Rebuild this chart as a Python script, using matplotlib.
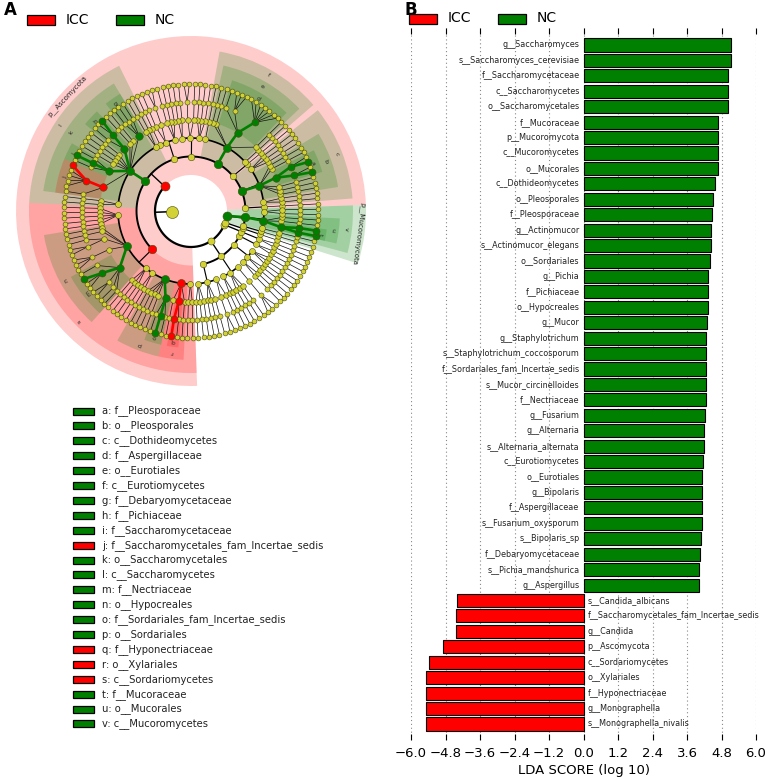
import numpy as np
import matplotlib
matplotlib.use('Agg')
import matplotlib.pyplot as plt
from matplotlib.patches import Rectangle

# ---------------- Panel B data : LDA scores ----------------
lda_names = ['g__Saccharomyces', 's__Saccharomyces_cerevisiae', 'f__Saccharomycetaceae',
             'c__Saccharomycetes', 'o__Saccharomycetales', 'f__Mucoraceae', 'p__Mucoromycota',
             'c__Mucoromycetes', 'o__Mucorales', 'c__Dothideomycetes', 'o__Pleosporales',
             'f__Pleosporaceae', 'g__Actinomucor', 's__Actinomucor_elegans', 'o__Sordariales',
             'g__Pichia', 'f__Pichiaceae', 'o__Hypocreales', 'g__Mucor', 'g__Staphylotrichum',
             's__Staphylotrichum_coccosporum', 'f__Sordariales_fam_Incertae_sedis',
             's__Mucor_circinelloides', 'f__Nectriaceae', 'g__Fusarium', 'g__Alternaria',
             's__Alternaria_alternata', 'c__Eurotiomycetes', 'o__Eurotiales', 'g__Bipolaris',
             'f__Aspergillaceae', 's__Fusarium_oxysporum', 's__Bipolaris_sp',
             'f__Debaryomycetaceae', 's__Pichia_mandshurica', 'g__Aspergillus',
             's__Candida_albicans', 'f__Saccharomycetales_fam_Incertae_sedis', 'g__Candida',
             'p__Ascomycota', 'c__Sordariomycetes', 'o__Xylariales', 'f__Hyponectriaceae',
             'g__Monographella', 's__Monographella_nivalis']
lda_values = [5.12, 5.12, 5.04, 5.04, 5.04, 4.67, 4.67, 4.67, 4.67, 4.59, 4.50, 4.46,
              4.42, 4.42, 4.39, 4.34, 4.34, 4.32, 4.31, 4.27, 4.27, 4.27, 4.25, 4.25,
              4.21, 4.20, 4.20, 4.17, 4.12, 4.11, 4.11, 4.11, 4.09, 4.04, 4.01, 4.00,
              4.39, 4.42, 4.42, 4.88, 5.39, 5.48, 5.48, 5.48, 5.48]
lda_groups = ['NC'] * 36 + ['ICC'] * 9

group_names = ['ICC', 'NC']
group_colors = ['#ff0000', '#008000']
xtick_values = [-6.0, -4.8, -3.6, -2.4, -1.2, 0.0, 1.2, 2.4, 3.6, 4.8, 6.0]

# ---------------- Panel A data : taxonomic tree (structure estimated) ----------------
# phylum / class / order / family : (name, children)  or  [children] when unlabelled
# genus : (name, n_species, highlighted_species)  or  int = unlabelled genus with n species
phylum_ascomycota = ('Ascomycota', [
    [[[1]]],
    ('Dothideomycetes', [
        [[1], [1]],
        ('Pleosporales', [[1], [1], [1],
                          ('Pleosporaceae', [('Bipolaris', 2, 'Bipolaris_sp'),
                                             ('Alternaria', 2, 'Alternaria_alternata')]),
                          [1], [1]]),
        [[1], [1], [1]]]),
    [[[1]]],
    ('Eurotiomycetes', [
        [[1]],
        ('Eurotiales', [[1], ('Aspergillaceae', [('Aspergillus', 7, ''), 3, 1]), [1], [1]]),
        [[1]]]),
    [[[1], [1], [1]], [[1], [2]], [[1], [1]]],
    [[[1], [1], [1]], [[2], [1]], [[1]]],
    ('Saccharomycetes', [
        [[1], [1]],
        ('Saccharomycetales', [
            ('Debaryomycetaceae', [1, 1, 1]),
            [1], [1],
            ('Pichiaceae', [('Pichia', 2, 'Pichia_mandshurica'), 1]),
            [1], [1], [1],
            [1],
            ('Saccharomycetaceae', [1, ('Saccharomyces', 1, 'Saccharomyces_cerevisiae'), 1]),
            ('Saccharomycetales_fam_Incertae_sedis', [('Candida', 5, 'Candida_albicans'), 1])]),
        [[1], [1]]]),
    ('Sordariomycetes', [
        [[1], [1], [1], [1], [1]],
        ('Hypocreales', [[1], [1], [1, 2], [3],
                         ('Nectriaceae', [1, ('Fusarium', 3, 'Fusarium_oxysporum'), 2, 1, 1])]),
        [[1], [1], [1]],
        [[1], [1]],
        ('Sordariales', [[1], [1], [1], [1],
                         ('Sordariales_fam_Incertae_sedis',
                          [1, ('Staphylotrichum', 1, 'Staphylotrichum_coccosporum'), 1])]),
        ('Xylariales', [[1], ('Hyponectriaceae', [('Monographella', 1, 'Monographella_nivalis'), 1]), [1]]),
        [[1], [1]]]),
])
phylum_other1 = [
    [[[1], [1], [1]], [[1], [1], [1]], [[2], [1]]],
    [[[1], [1]], [[1], [1], [1]], [[3]]],
    [[[1], [1]], [[1], [1]], [[1], [1], [1]]],
    [[[1], [1]]]]
phylum_other2 = [[[[1], [1]]]]
phylum_other3 = [[[[1]]]]
phylum_mucoromycota = ('Mucoromycota', [
    [[[1]]],
    ('Mucoromycetes', [
        [[1]],
        ('Mucorales', [('Mucoraceae', [('Mucor', 1, 'Mucor_circinelloides'),
                                       ('Actinomucor', 1, 'Actinomucor_elegans')]),
                       [1], [1]]),
        [[1], [1]]])])
tree_phyla = [phylum_ascomycota, phylum_other1, phylum_other2, phylum_other3, phylum_mucoromycota]


def build(spec, level):
    if level == 5:
        name, n, sp = ('', spec, '') if isinstance(spec, int) else spec
        kids = [{'name': sp if i == 0 else '', 'level': 6, 'children': []} for i in range(n)]
        return {'name': name, 'level': 5, 'children': kids}
    name, kids = spec if isinstance(spec, tuple) else ('', spec)
    return {'name': name, 'level': level, 'children': [build(k, level + 1) for k in kids]}


root = {'name': '', 'level': 0, 'children': [build(p, 1) for p in tree_phyla]}

leaves, allnodes = [], []


def collect(n):
    allnodes.append(n)
    if not n['children']:
        leaves.append(n)
    for c in n['children']:
        collect(c)


collect(root)
N = len(leaves)
dth = 2 * np.pi / N
theta0 = np.deg2rad(2.0)
for k, lf in enumerate(leaves):
    lf['k0'] = lf['k1'] = k
    lf['theta'] = theta0 + dth * (k + 0.5)


def place(n):
    if n['children']:
        for c in n['children']:
            place(c)
        n['k0'] = n['children'][0]['k0']
        n['k1'] = n['children'][-1]['k1']
        n['theta'] = 0.5 * (leaves[n['k0']]['theta'] + leaves[n['k1']]['theta'])


place(root)

R = [19, 36, 54.5, 73, 91, 109, 127]
ROUT = {1: 175, 2: 162, 3: 149, 4: 137}
PREFIX = {1: 'p__', 2: 'c__', 3: 'o__', 4: 'f__', 5: 'g__', 6: 's__'}
for n in allnodes:
    n['r'] = R[n['level']]

marker = {nm.split('__', 1)[1]: g for nm, g in zip(lda_names, lda_groups)}
gcolor = dict(zip(group_names, group_colors))

fig = plt.figure(figsize=(7.67, 7.79), dpi=100)
W, H = 767.0, 779.0

# ---------------- Cladogram ----------------
ax = fig.add_axes([14 / W, 1 - 388 / H, 354 / W, 354 / H], projection='polar')
ax.set_ylim(0, 177)
ax.set_axis_off()

# shaded clades
for n in allnodes:
    if n['name'] in marker and 1 <= n['level'] <= 4:
        t0 = leaves[n['k0']]['theta'] - dth / 2
        t1 = leaves[n['k1']]['theta'] + dth / 2
        ax.bar((t0 + t1) / 2, ROUT[n['level']] - n['r'], width=t1 - t0, bottom=n['r'],
               color=gcolor[marker[n['name']]], alpha=0.2, edgecolor='none', zorder=0)

ARC_LW = {1: 1.6, 2: 1.4, 3: 1.2}
YELLOW = '#d2d236'
MAX_COLOURED_TURN = np.deg2rad(10)


def edges(n):
    kids = n['children']
    if not kids:
        return
    lv = kids[0]['level']
    rc = R[lv]
    if lv <= 3:
        th = np.linspace(kids[0]['theta'], kids[-1]['theta'], 200)
        ax.plot(th, np.full_like(th, rc), color='k', lw=ARC_LW[lv], zorder=1,
                solid_capstyle='butt')
        ax.plot([n['theta'], n['theta']], [n['r'], rc], color='k', lw=ARC_LW[lv] * 0.7, zorder=1)
    else:
        for c in kids:
            ax.plot([n['theta'], c['theta']], [n['r'], c['r']], color='#111111', lw=0.5, zorder=1)
    for c in kids:
        if (n['name'] in marker and c['name'] in marker and marker[n['name']] == marker[c['name']]
                and abs(n['theta'] - c['theta']) < MAX_COLOURED_TURN):
            ax.plot([n['theta'], c['theta']], [n['r'], c['r']],
                    color=gcolor[marker[c['name']]], lw=1.9, zorder=2, solid_capstyle='round')
        edges(c)


edges(root)

DY = {0: 12, 1: 7, 2: 6.5, 3: 6, 4: 5.5, 5: 5, 6: 4.8}
DC = {1: 9, 2: 8.5, 3: 8, 4: 7.5, 5: 7, 6: 7}
for n in allnodes:
    if n['name'] in marker and n['level'] >= 1:
        col, dpx, z = gcolor[marker[n['name']]], DC[n['level']], 4
    else:
        col, dpx, z = YELLOW, DY[n['level']], 3
    ax.scatter([n['theta']], [n['r']], s=(dpx * 0.72) ** 2, c=col, edgecolors='#4a4a10',
               linewidths=0.4, zorder=z)

# clade labels
labelled = []


def post(n):
    for c in n['children']:
        post(c)
    if n['name'] in marker and 2 <= n['level'] <= 4:
        labelled.append(n)


post(root)
letters = 'abcdefghijklmnopqrstuvwxyz'
for i, n in enumerate(labelled):
    ax.text(n['theta'], ROUT[n['level']] - 6, letters[i], fontsize=4.5,
            rotation=np.rad2deg(n['theta']) - 90, ha='center', va='center',
            rotation_mode='anchor', color='#222222', zorder=5)
for n in root['children']:
    if n['name'] in marker:
        ax.text(n['theta'], ROUT[1] - 6, PREFIX[1] + n['name'], fontsize=5,
                rotation=np.rad2deg(n['theta']) - 90, ha='center', va='center',
                rotation_mode='anchor', color='#222222', zorder=5)

# legend of lettered clades
for i, n in enumerate(labelled):
    yc = 411 + i * 14.9
    fig.add_artist(Rectangle((73 / W, 1 - (yc + 3.5) / H), 21 / W, 7 / H, transform=fig.transFigure,
                             facecolor=gcolor[marker[n['name']]], edgecolor='k', lw=0.9))
    fig.text(102 / W, 1 - yc / H, f"{letters[i]}: {PREFIX[n['level']]}{n['name']}",
             fontsize=7.2, ha='left', va='center', color='#222222')


def group_legend(x0, yc):
    xs = [x0, x0 + 89]
    for g, xx in zip(group_names, xs):
        fig.add_artist(Rectangle((xx / W, 1 - (yc + 5) / H), 28 / W, 10 / H,
                                 transform=fig.transFigure, facecolor=gcolor[g],
                                 edgecolor='k', lw=0.9))
        fig.text((xx + 39) / W, 1 - yc / H, g, fontsize=10, ha='left', va='center')


group_legend(27, 19.5)
group_legend(409, 18.5)
fig.text(4 / W, 1 - 10 / H, 'A', fontsize=12, fontweight='bold', ha='left', va='center')
fig.text(404 / W, 1 - 10 / H, 'B', fontsize=12, fontweight='bold', ha='left', va='center')

# ---------------- LDA bar chart ----------------
ax2 = fig.add_axes([411 / W, 1 - 740 / H, 345 / W, 712 / H])
ypos = np.arange(len(lda_names))
signed = [v if g == 'NC' else -v for v, g in zip(lda_values, lda_groups)]
ax2.barh(ypos, signed, height=0.85, color=[gcolor[g] for g in lda_groups],
         edgecolor='k', lw=0.8, zorder=2)
for y, nm, v in zip(ypos, lda_names, signed):
    if v > 0:
        ax2.text(-0.14, y, nm, ha='right', va='center', fontsize=5.75, color='#222222', zorder=3)
    else:
        ax2.text(0.14, y, nm, ha='left', va='center', fontsize=5.75, color='#222222', zorder=3)
ax2.set_xlim(-6, 6)
ax2.set_ylim(len(lda_names) - 1 + 1.04, -1.10)
ax2.set_xticks(xtick_values)
ax2.set_xticklabels([f'{t:.1f}'.replace('-', '\u2212') for t in xtick_values])
ax2.set_yticks([])
ax2.xaxis.grid(True, linestyle=(0, (1, 2.5)), color='#888888', lw=0.8, zorder=0)
ax2.set_axisbelow(True)
for s in ax2.spines.values():
    s.set_visible(False)
ax2.tick_params(axis='x', which='both', direction='in', top=True, bottom=True,
                length=4, width=0.8, labelsize=9.5, pad=5)
ax2.set_xlabel('LDA SCORE (log 10)', fontsize=9.5, labelpad=3)

fig.savefig('out.png', dpi=100)
